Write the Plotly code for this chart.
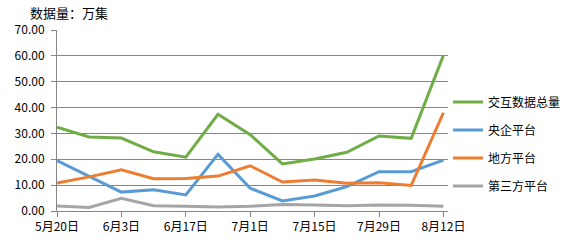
import plotly.graph_objects as go

dates = ["2019-05-20", "2019-05-27", "2019-06-03", "2019-06-10", "2019-06-17", "2019-06-24",
         "2019-07-01", "2019-07-08", "2019-07-15", "2019-07-22", "2019-07-29", "2019-08-05", "2019-08-12"]
total = [32.4, 28.6, 28.2, 22.9, 20.8, 37.4, 29.5, 18.2, 20.1, 22.7, 29.0, 28.1, 60.2]
central = [19.5, 13.3, 7.3, 8.2, 6.2, 21.9, 8.8, 3.9, 5.8, 9.4, 15.2, 15.2, 19.7]
local = [10.8, 13.2, 15.9, 12.5, 12.6, 13.5, 17.5, 11.2, 12.0, 10.7, 10.9, 9.9, 38.0]
third = [1.9, 1.4, 4.9, 2.0, 1.8, 1.5, 1.8, 2.5, 2.3, 2.0, 2.3, 2.2, 1.8]

names = ["交互数据总量", "央企平台", "地方平台", "第三方平台"]
colors = ["#70AD47", "#5B9BD5", "#ED7D31", "#A5A5A5"]
series = [total, central, local, third]

tick_vals = ["2019-05-20", "2019-06-03", "2019-06-17", "2019-07-01", "2019-07-15", "2019-07-29", "2019-08-12"]
tick_text = ["5月20日", "6月3日", "6月17日", "7月1日", "7月15日", "7月29日", "8月12日"]

font = "Noto Sans CJK SC"
fig = go.Figure()
for i, (n, c, s) in enumerate(zip(names, colors, series)):
    fig.add_trace(go.Scatter(x=dates, y=s, name=n, mode="lines",
                             line=dict(color=c, width=3), legendgroup=str(i)))

fig.update_layout(
    width=578, height=246,
    margin=dict(l=57, r=118, t=30, b=35),
    paper_bgcolor="white", plot_bgcolor="white",
    font=dict(family=font, size=12, color="black"),
    showlegend=True,
    legend=dict(x=1.0, xanchor="left", y=0.37, yanchor="middle",
                traceorder="grouped", tracegroupgap=9,
                font=dict(family=font, size=12, color="black"),
                itemwidth=30, bgcolor="rgba(0,0,0,0)"),
    annotations=[dict(text="数据量：万集", xref="paper", yref="paper", x=-0.075, y=1.0,
                      xanchor="left", yanchor="bottom", yshift=6, showarrow=False,
                      font=dict(family=font, size=13, color="black"))],
)
fig.update_xaxes(type="date", range=["2019-05-20", "2019-08-13"],
                 tickvals=tick_vals, ticktext=tick_text,
                 showgrid=False, showline=True, linecolor="#868686", linewidth=1,
                 ticks="outside", ticklen=5, tickcolor="#868686",
                 tickfont=dict(family=font, size=12), zeroline=False)
fig.update_yaxes(range=[0, 70], dtick=10, tickformat=".2f",
                 showgrid=True, gridcolor="#868686", gridwidth=1,
                 showline=True, linecolor="#868686", linewidth=1,
                 ticks="outside", ticklen=5, tickcolor="#868686", ticklabelstandoff=4,
                 tickfont=dict(family=font, size=12), zeroline=False)

fig.write_html("out.html")
